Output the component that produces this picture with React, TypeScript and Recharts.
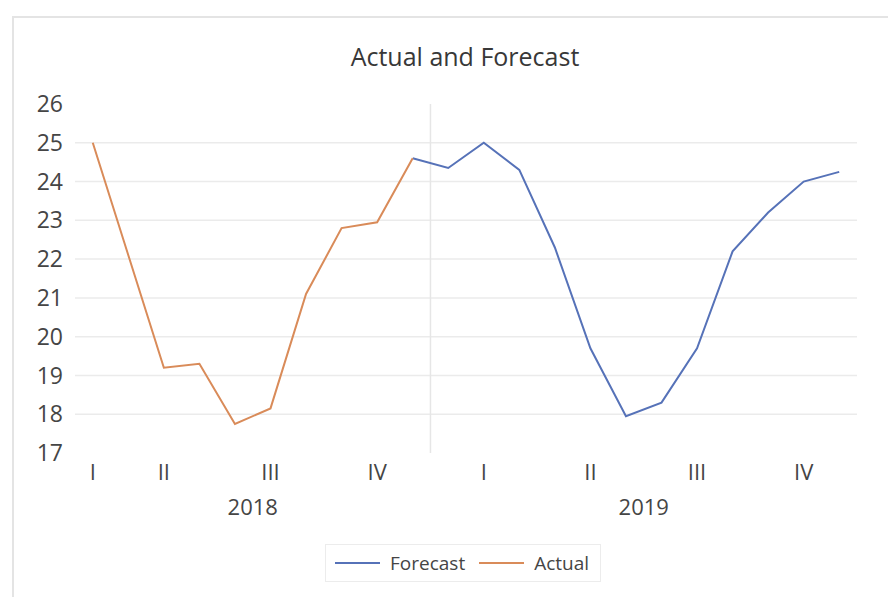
import React from 'react';
import {
  LineChart,
  Line,
  XAxis,
  YAxis,
  CartesianGrid,
  Legend,
  ReferenceLine,
} from 'recharts';

// Monthly series, Jan 2018 .. Oct 2019 (index 0..21)
const months = [
  'Jan 2018', 'Feb 2018', 'Mar 2018', 'Apr 2018', 'May 2018', 'Jun 2018',
  'Jul 2018', 'Aug 2018', 'Sep 2018', 'Oct 2018', 'Nov 2018', 'Dec 2018',
  'Jan 2019', 'Feb 2019', 'Mar 2019', 'Apr 2019', 'May 2019', 'Jun 2019',
  'Jul 2019', 'Aug 2019', 'Sep 2019', 'Oct 2019',
];

const actualValues: (number | null)[] = [
  25.0, 22.1, 19.2, 19.3, 17.75, 18.15, 21.1, 22.8, 22.95, 24.6,
  null, null, null, null, null, null, null, null, null, null, null, null,
];

const forecastValues: (number | null)[] = [
  null, null, null, null, null, null, null, null, null, 24.6,
  24.35, 25.0, 24.3, 22.3, 19.7, 17.95, 18.3, 19.7, 22.2, 23.2, 24.0, 24.25,
];

// Quarter labels sit on the middle month of each quarter group
const quarterTicks = [0, 2, 5, 8, 11, 14, 17, 20];
const quarterLabels = ['I', 'II', 'III', 'IV', 'I', 'II', 'III', 'IV'];

// Year labels are centred on each year's span of months
const yearTicks = [4.5, 15.5];
const yearLabels = ['2018', '2019'];

const yTicks = [17, 18, 19, 20, 21, 22, 23, 24, 25, 26];
const gridValues = [18, 19, 20, 21, 22, 23, 24, 25];
const yearBoundary = 9.5;
const legendOrder = ['Forecast', 'Actual'];

const data = months.map((m, i) => ({
  idx: i,
  month: m,
  actual: actualValues[i],
  forecast: forecastValues[i],
}));

const FONT = '"Open Sans", sans-serif';
const TEXT = '#454545';
const BLUE = '#5672B8';
const ORANGE = '#D98B59';

const quarterFormatter = (v: number) => {
  const k = quarterTicks.indexOf(v);
  return k >= 0 ? quarterLabels[k] : '';
};
const yearFormatter = (v: number) => {
  const k = yearTicks.indexOf(v);
  return k >= 0 ? yearLabels[k] : '';
};

const LegendBox = (props: any) => {
  const payload = [...(props.payload || [])].sort(
    (a: any, b: any) => legendOrder.indexOf(a.value) - legendOrder.indexOf(b.value),
  );
  return (
    <div
      style={{
        display: 'flex',
        alignItems: 'center',
        border: '1px solid #ececec',
        padding: '5px 11px 5px 9px',
        fontFamily: FONT,
        fontSize: 19,
        lineHeight: '26px',
        color: TEXT,
        background: '#fff',
      }}
    >
      {payload.map((p: any, i: number) => (
        <div key={i} style={{ display: 'flex', alignItems: 'center', marginLeft: i ? 14 : 0 }}>
          <svg width={45} height={10} style={{ marginRight: 10 }}>
            <line x1={0} y1={5} x2={45} y2={5} stroke={p.color} strokeWidth={2} />
          </svg>
          <span>{p.value}</span>
        </div>
      ))}
    </div>
  );
};

export default function App() {
  return (
    <div style={{ position: 'absolute', left: 0, top: 0, width: 888, height: 597, background: '#fff', overflow: 'hidden' }}>
      <div
        style={{
          position: 'absolute',
          left: 12,
          top: 16,
          width: 900,
          height: 600,
          border: '2px solid #e4e4e4',
          boxSizing: 'border-box',
        }}
      />
      <div
        style={{
          position: 'absolute',
          left: 0,
          top: 40,
          width: 930,
          textAlign: 'center',
          fontFamily: FONT,
          fontSize: 25,
          color: '#383838',
          lineHeight: '32px',
        }}
      >
        Actual and Forecast
      </div>
      <div style={{ position: 'absolute', left: 0, top: 0 }}>
        <LineChart
          width={888}
          height={597}
          data={data}
          margin={{ top: 104, right: 31, bottom: 26, left: 0 }}
        >
          <CartesianGrid
            vertical={false}
            horizontalValues={gridValues}
            stroke="#ebebeb"
            strokeWidth={1.5}
          />
          <XAxis
            xAxisId="q"
            dataKey="idx"
            type="number"
            domain={[-0.5, 21.5]}
            ticks={quarterTicks}
            tickFormatter={quarterFormatter}
            interval={0}
            axisLine={false}
            tickLine={false}
            tickSize={0}
            tickMargin={11}
            height={40}
            tick={{ fill: TEXT, fontSize: 22, fontFamily: FONT }}
          />
          <XAxis
            xAxisId="y"
            dataKey="idx"
            type="number"
            domain={[-0.5, 21.5]}
            ticks={yearTicks}
            tickFormatter={yearFormatter}
            interval={0}
            axisLine={false}
            tickLine={false}
            tickSize={0}
            tickMargin={6}
            height={40}
            tick={{ fill: TEXT, fontSize: 22, fontFamily: FONT }}
          />
          <YAxis
            type="number"
            domain={[17, 26]}
            ticks={yTicks}
            interval={0}
            axisLine={false}
            tickLine={false}
            tickSize={0}
            tickMargin={12}
            width={75}
            tick={{ fill: TEXT, fontSize: 23, fontFamily: FONT }}
          />
          <ReferenceLine xAxisId="q" x={yearBoundary} stroke="#e6e6e6" strokeWidth={1.5} />
          <Line
            xAxisId="q"
            type="linear"
            dataKey="forecast"
            name="Forecast"
            stroke={BLUE}
            strokeWidth={2}
            dot={false}
            activeDot={false}
            isAnimationActive={false}
          />
          <Line
            xAxisId="q"
            type="linear"
            dataKey="actual"
            name="Actual"
            stroke={ORANGE}
            strokeWidth={2}
            dot={false}
            activeDot={false}
            isAnimationActive={false}
          />
          <Legend
            content={<LegendBox />}
            wrapperStyle={{ position: 'absolute', left: 325, top: 544, width: 'auto' }}
          />
        </LineChart>
      </div>
    </div>
  );
}
